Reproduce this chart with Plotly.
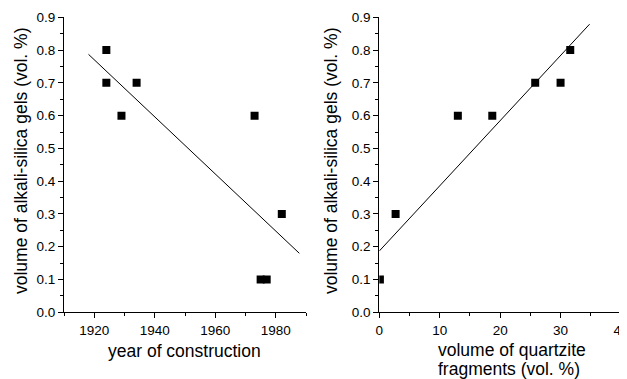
import plotly.graph_objects as go

# Left panel: year of construction vs gel volume
years = [1924, 1924, 1929, 1934, 1973, 1975, 1977, 1982]
gel_left = [0.8, 0.7, 0.6, 0.7, 0.6, 0.1, 0.1, 0.3]
fit_left_x = [1918.1, 1987.8]
fit_left_y = [0.787, 0.180]

# Right panel: quartzite fragments vs gel volume
quartzite = [0.1, 2.7, 13.0, 18.7, 25.8, 30.0, 31.6]
gel_right = [0.1, 0.3, 0.6, 0.6, 0.7, 0.7, 0.8]
fit_right_x = [0.0, 34.8]
fit_right_y = [0.187, 0.879]

# page body has an 8px margin; figure fills the rest of the 627x379 window
O = 8
W, H = 627 - O, 379 - O
FONT = "Liberation Sans, Arial, sans-serif"


def px(xp):
    return (xp - O) / W


def py(yp):
    return (H - (yp - O)) / H


fig = go.Figure()
mk = dict(symbol="square", size=8, color="black", line=dict(width=0))
fig.add_trace(go.Scatter(x=years, y=gel_left, mode="markers", marker=mk,
                         xaxis="x", yaxis="y", showlegend=False))
fig.add_trace(go.Scatter(x=fit_left_x, y=fit_left_y, mode="lines",
                         line=dict(color="black", width=1),
                         xaxis="x", yaxis="y", showlegend=False))
fig.add_trace(go.Scatter(x=quartzite, y=gel_right, mode="markers", marker=mk,
                         xaxis="x2", yaxis="y2", showlegend=False))
fig.add_trace(go.Scatter(x=fit_right_x, y=fit_right_y, mode="lines",
                         line=dict(color="black", width=1),
                         xaxis="x2", yaxis="y2", showlegend=False))

ydom = [py(312.3), py(17.3)]
common_axis = dict(showline=True, linecolor="black", linewidth=1, mirror=False,
                   showgrid=False, zeroline=False, ticks="outside", ticklen=5,
                   tickwidth=1, tickcolor="black", automargin=False,
                   ticklabeloverflow="allow",
                   tickfont=dict(family=FONT, size=13.5, color="black"))
minor_common = dict(ticks="outside", ticklen=3, tickwidth=1, tickcolor="black", showgrid=False)

fig.update_layout(
    width=W, height=H,
    margin=dict(l=0, r=0, t=0, b=0),
    paper_bgcolor="white", plot_bgcolor="white",
    font=dict(family=FONT, color="black"),
    xaxis=dict(domain=[px(64), px(306)], range=[1910, 1990], tick0=1920, dtick=20,
               minor=dict(dtick=10, **minor_common), anchor="y", **common_axis),
    yaxis=dict(domain=ydom, range=[0, 0.9], dtick=0.1, tickformat=".1f",
               minor=dict(dtick=0.05, **minor_common), anchor="x", **common_axis),
    xaxis2=dict(domain=[px(379.3), px(621)], range=[0, 40], tick0=0, dtick=10,
                minor=dict(dtick=5, **minor_common), anchor="y2", **common_axis),
    yaxis2=dict(domain=ydom, range=[0, 0.9], dtick=0.1, tickformat=".1f",
                minor=dict(dtick=0.05, **minor_common), anchor="x2", **common_axis),
)

tfont = dict(family=FONT, size=17.5, color="black")
ann = [
    dict(text="volume of alkali-silica gels (vol. %)", x=px(21), y=py(161),
         textangle=-90),
    dict(text="volume of alkali-silica gels (vol. %)", x=px(331), y=py(161),
         textangle=-90),
    dict(text="year of construction", x=px(184.5), y=py(351)),
    dict(text="volume of quartzite", x=px(436), y=py(350), xanchor="left"),
    dict(text="fragments (vol. %)", x=px(436), y=py(369), xanchor="left"),
]
for a in ann:
    a.setdefault("xanchor", "center")
    a.update(xref="paper", yref="paper", yanchor="middle", showarrow=False, font=tfont)
    fig.add_annotation(**a)

fig.write_html("out.html")
